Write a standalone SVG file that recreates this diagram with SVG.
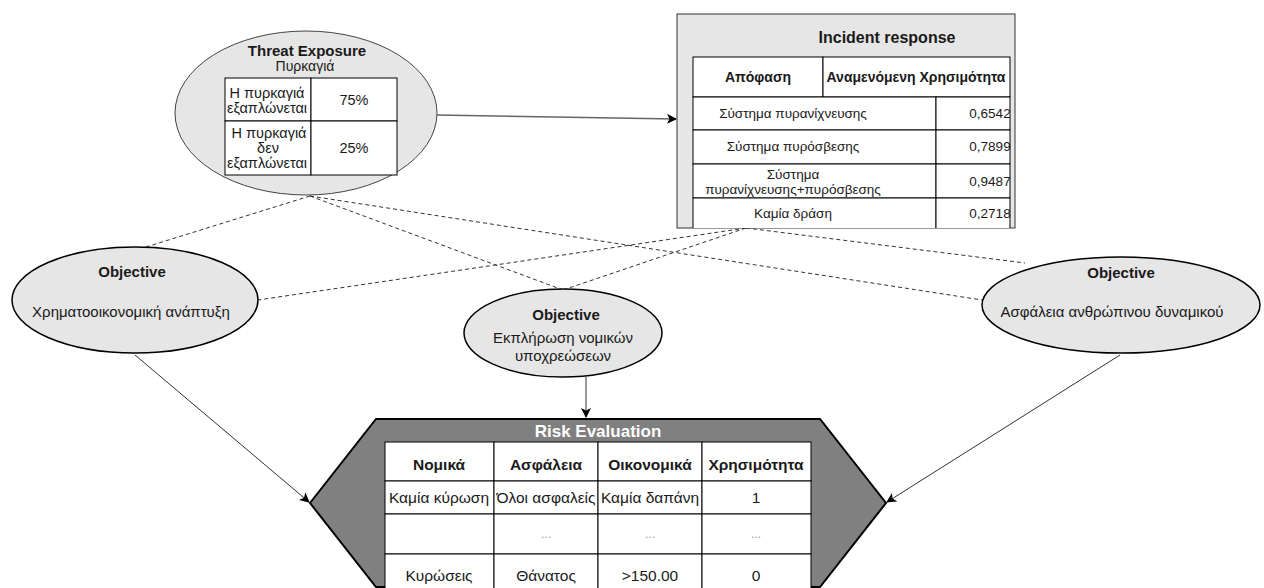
<svg xmlns="http://www.w3.org/2000/svg" width="1264" height="588" viewBox="0 0 1264 588">
  <style>
    text { font-family: "Liberation Sans", Arial, sans-serif; fill: #1a1a1a; text-anchor: middle; dominant-baseline: central; }
    .b { font-weight: bold; }
    .oval { fill: #e6e6e6; stroke: #000; stroke-width: 1.5; }
    .cell { fill: #fff; stroke: #000; stroke-width: 1; }
    .dash { fill: none; stroke: #333; stroke-width: 1; stroke-dasharray: 4 3; }
    .arrow { fill: none; stroke: #333; stroke-width: 1; marker-end: url(#ah); }
    .te { font-size: 14.5px; }
    .ir { font-size: 13.5px; }
    .ob { font-size: 15px; }
    .re { font-size: 15.5px; }
    .dots { font-size: 12px; fill: #999; }
  </style>
  <defs>
    <marker id="ah" viewBox="0 0 10 10" refX="9" refY="5" markerWidth="10" markerHeight="10" markerUnits="userSpaceOnUse" orient="auto">
      <path d="M0,0 L10,5 L0,10 L2.5,5 Z" fill="#000"/>
    </marker>
    <clipPath id="irClip">
      <rect x="677" y="14" width="338" height="214"/>
    </clipPath>
  </defs>

  <rect width="1264" height="588" fill="#fff"/>

  <!-- connectors -->
  <g id="connectors">
    <line class="arrow" x1="437" y1="115" x2="676" y2="119" style="stroke:#666;stroke-width:1.5"/>
    <line class="dash" x1="310" y1="196" x2="146" y2="247"/>
    <line class="dash" x1="310" y1="196" x2="563" y2="290"/>
    <line class="dash" x1="310" y1="196" x2="982" y2="300"/>
    <line class="dash" x1="746" y1="228" x2="258" y2="300"/>
    <line class="dash" x1="746" y1="228" x2="563" y2="290"/>
    <line class="dash" x1="746" y1="228" x2="1025" y2="263"/>
    <line class="arrow" x1="135" y1="355" x2="309" y2="502"/>
    <line class="arrow" x1="1120" y1="355" x2="887" y2="502"/>
    <line class="arrow" x1="586" y1="377" x2="586" y2="417"/>
  </g>

  <!-- threat exposure -->
  <g id="threat-exposure">
    <ellipse cx="306" cy="113" rx="131" ry="82" fill="#e6e6e6" stroke="#444" stroke-width="1"/>
    <text x="307" y="50" class="b" font-size="15">Threat Exposure</text>
    <text x="305" y="66" font-size="14">Πυρκαγιά</text>
    <rect class="cell" x="225" y="78" width="86" height="43"/>
    <rect class="cell" x="311" y="78" width="86" height="43"/>
    <rect class="cell" x="225" y="121" width="86" height="54"/>
    <rect class="cell" x="311" y="121" width="86" height="54"/>
    <text class="te" x="267" y="93">Η πυρκαγιά</text>
    <text class="te" x="267" y="108">εξαπλώνεται</text>
    <text class="te" x="354" y="100">75%</text>
    <text class="te" x="269" y="133">Η πυρκαγιά</text>
    <text class="te" x="268" y="148">δεν</text>
    <text class="te" x="267" y="163">εξαπλώνεται</text>
    <text class="te" x="354" y="148">25%</text>
  </g>

  <!-- incident response: table clipped by its container -->
  <g id="incident-response">
    <rect x="677" y="14" width="338" height="214" fill="#e6e6e6" stroke="#333" stroke-width="1"/>
    <text x="887" y="37" class="b" font-size="16">Incident response</text>
    <g clip-path="url(#irClip)">
      <rect class="cell" x="693" y="57" width="130" height="40"/>
      <rect class="cell" x="823" y="57" width="187" height="40"/>
      <rect class="cell" x="693" y="97" width="243" height="33"/>
      <rect class="cell" x="936" y="97" width="74" height="33"/>
      <rect class="cell" x="693" y="130" width="243" height="34"/>
      <rect class="cell" x="936" y="130" width="74" height="34"/>
      <rect class="cell" x="693" y="164" width="243" height="34"/>
      <rect class="cell" x="936" y="164" width="74" height="34"/>
      <rect class="cell" x="693" y="198" width="243" height="34"/>
      <rect class="cell" x="936" y="198" width="74" height="34"/>
    </g>
    <text x="758" y="77" class="b" font-size="14">Απόφαση</text>
    <text x="916" y="77" class="b" font-size="14">Αναμενόμενη Χρησιμότητα</text>
    <text class="ir" x="793" y="113">Σύστημα πυρανίχνευσης</text>
    <text class="ir" x="990" y="113">0,6542</text>
    <text class="ir" x="793" y="146">Σύστημα πυρόσβεσης</text>
    <text class="ir" x="990" y="146">0,7899</text>
    <text class="ir" x="793" y="174">Σύστημα</text>
    <text class="ir" x="793" y="189">πυρανίχνευσης+πυρόσβεσης</text>
    <text class="ir" x="990" y="181">0,9487</text>
    <text class="ir" x="793" y="213">Καμία δράση</text>
    <text class="ir" x="990" y="213">0,2718</text>
  </g>

  <!-- objectives -->
  <g id="objective-finance">
    <ellipse class="oval" cx="135" cy="300" rx="123" ry="53"/>
    <text x="132" y="271" class="b ob">Objective</text>
    <text x="131" y="311" class="ob">Χρηματοοικονομική ανάπτυξη</text>
  </g>
  <g id="objective-legal">
    <ellipse class="oval" cx="563" cy="333" rx="99" ry="44"/>
    <text x="566" y="314" class="b ob">Objective</text>
    <text x="563" y="337" class="ob">Εκπλήρωση νομικών</text>
    <text x="563" y="355" class="ob">υποχρεώσεων</text>
  </g>
  <g id="objective-safety">
    <ellipse class="oval" cx="1121" cy="305" rx="139" ry="48"/>
    <text x="1121" y="272" class="b ob">Objective</text>
    <text x="1112" y="311" class="ob">Ασφάλεια ανθρώπινου δυναμικού</text>
  </g>

  <!-- risk evaluation -->
  <g id="risk-evaluation">
    <path d="M310,503 L376,419 L820,419 L886,503 L820,587 L376,587 Z" fill="#808080" stroke="#000" stroke-width="2"/>
    <text x="598" y="431" class="b" font-size="17" style="fill:#fff">Risk Evaluation</text>
    <rect class="cell" x="385" y="442" width="109" height="39"/>
    <rect class="cell" x="494" y="442" width="104" height="39"/>
    <rect class="cell" x="598" y="442" width="104" height="39"/>
    <rect class="cell" x="702" y="442" width="109" height="39"/>
    <rect class="cell" x="385" y="481" width="109" height="33"/>
    <rect class="cell" x="494" y="481" width="104" height="33"/>
    <rect class="cell" x="598" y="481" width="104" height="33"/>
    <rect class="cell" x="702" y="481" width="109" height="33"/>
    <rect class="cell" x="385" y="514" width="109" height="40"/>
    <rect class="cell" x="494" y="514" width="104" height="40"/>
    <rect class="cell" x="598" y="514" width="104" height="40"/>
    <rect class="cell" x="702" y="514" width="109" height="40"/>
    <rect class="cell" x="385" y="554" width="109" height="40"/>
    <rect class="cell" x="494" y="554" width="104" height="40"/>
    <rect class="cell" x="598" y="554" width="104" height="40"/>
    <rect class="cell" x="702" y="554" width="109" height="40"/>
    <text x="439" y="464" class="b re">Νομικά</text>
    <text x="546" y="464" class="b re">Ασφάλεια</text>
    <text x="650" y="464" class="b re">Οικονομικά</text>
    <text x="756" y="464" class="b re">Χρησιμότητα</text>
    <text x="439" y="497" class="re">Καμία κύρωση</text>
    <text x="546" y="497" class="re">Όλοι ασφαλείς</text>
    <text x="650" y="497" class="re">Καμία δαπάνη</text>
    <text x="756" y="497" class="re">1</text>
    <text x="546" y="534" class="dots">...</text>
    <text x="650" y="534" class="dots">...</text>
    <text x="756" y="534" class="dots">...</text>
    <text x="439" y="575" class="re">Κυρώσεις</text>
    <text x="546" y="575" class="re">Θάνατος</text>
    <text x="650" y="575" class="re">&gt;150.00</text>
    <text x="756" y="575" class="re">0</text>
  </g>
</svg>
